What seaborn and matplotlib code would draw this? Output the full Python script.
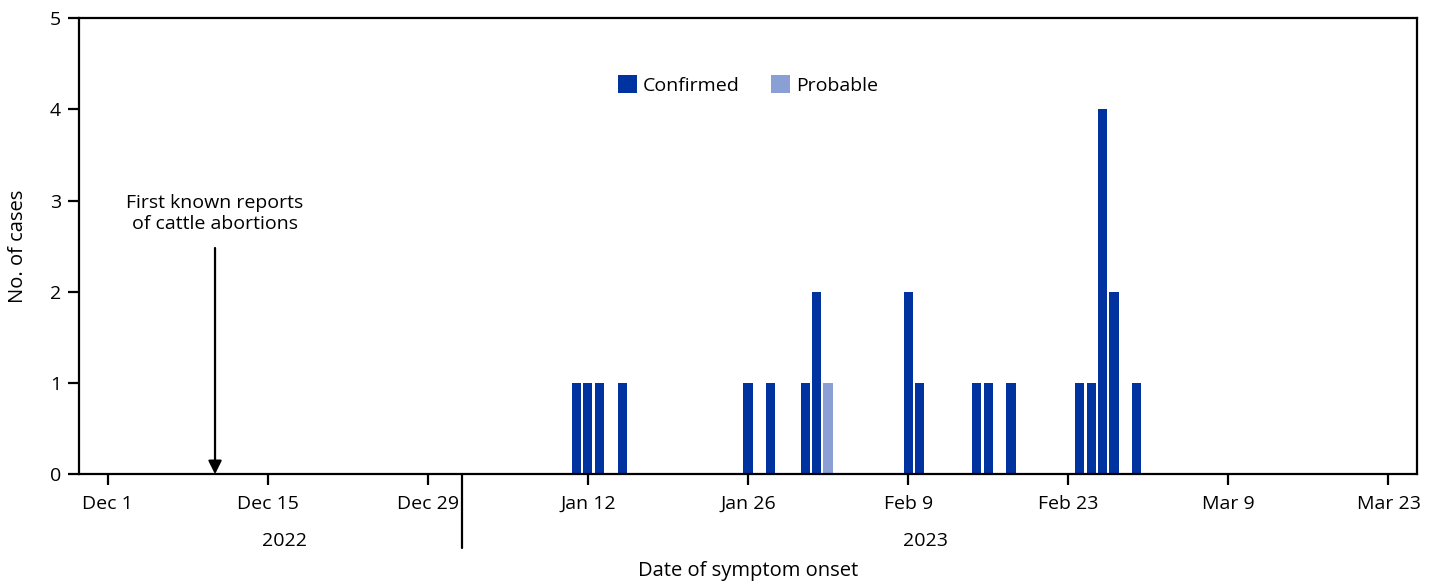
import pandas as pd
import numpy as np
import matplotlib
matplotlib.use('Agg')
import matplotlib.pyplot as plt
import matplotlib.transforms as mtransforms
from matplotlib.patches import Patch
from matplotlib.lines import Line2D
import seaborn as sns

# ---------------------------------------------------------------------------
# Data
# ---------------------------------------------------------------------------
confirmed_dates = ['2023-01-11', '2023-01-12', '2023-01-13', '2023-01-15',
                   '2023-01-26', '2023-01-28', '2023-01-31', '2023-02-01',
                   '2023-02-09', '2023-02-10', '2023-02-15', '2023-02-16',
                   '2023-02-18', '2023-02-24', '2023-02-25', '2023-02-26',
                   '2023-02-27', '2023-03-01']
confirmed_cases = [1, 1, 1, 1, 1, 1, 1, 2, 2, 1, 1, 1, 1, 1, 1, 4, 2, 1]

probable_dates = ['2023-02-02']
probable_cases = [1]

tick_dates = ['2022-12-01', '2022-12-15', '2022-12-29', '2023-01-12', '2023-01-26',
              '2023-02-09', '2023-02-23', '2023-03-09', '2023-03-23']
tick_labels = ['Dec 1', 'Dec 15', 'Dec 29', 'Jan 12', 'Jan 26',
               'Feb 9', 'Feb 23', 'Mar 9', 'Mar 23']

arrow_date = '2022-12-10'
year_break = '2023-01-01'

START = pd.Timestamp('2022-12-01')

COLORS = {'Confirmed': '#0033A0', 'Probable': '#8AA0D4'}
FS = 14

# ---------------------------------------------------------------------------
# Style
# ---------------------------------------------------------------------------
sns.set_style('white')
plt.rcParams['font.family'] = ['Open Sans', 'DejaVu Sans']
plt.rcParams['font.size'] = FS
plt.rcParams['text.color'] = 'black'
plt.rcParams['axes.labelcolor'] = 'black'
plt.rcParams['xtick.color'] = 'black'
plt.rcParams['ytick.color'] = 'black'


def to_day(d):
    return (pd.Timestamp(d) - START).days


df = pd.concat([
    pd.DataFrame({'date': confirmed_dates, 'cases': confirmed_cases, 'status': 'Confirmed'}),
    pd.DataFrame({'date': probable_dates, 'cases': probable_cases, 'status': 'Probable'}),
], ignore_index=True)
df['day'] = df['date'].apply(to_day)

fig = plt.figure(figsize=(14.35, 5.84), dpi=100)
ax = fig.add_axes([0.055, 0.188, 0.9325, 0.781])

sns.histplot(data=df, x='day', weights='cases', hue='status',
             hue_order=['Confirmed', 'Probable'], palette=COLORS,
             multiple='stack', discrete=True, shrink=0.8,
             alpha=1, linewidth=0, legend=False, ax=ax)

ax.set_xlim(-2.5, 114.5)
ax.set_ylim(0, 5)
ax.set_yticks(range(0, 6))
ax.set_xticks([to_day(d) for d in tick_dates])
ax.set_xticklabels(tick_labels)

for s in ax.spines.values():
    s.set_visible(True)
    s.set_color('black')
    s.set_linewidth(1.6)
ax.tick_params(axis='both', direction='out', length=8, width=1.6, color='black',
               labelsize=FS, labelcolor='black', bottom=True, left=True)
ax.tick_params(axis='x', pad=7)
ax.tick_params(axis='y', pad=5)

ax.set_ylabel('No. of cases', fontsize=FS + 0.5)
ax.yaxis.set_label_coords(-0.0456, 0.5)
ax.yaxis.label.set_va('center')
ax.set_xlabel('Date of symptom onset', fontsize=FS + 0.5)
ax.xaxis.set_label_coords(0.5, -0.213)
ax.xaxis.label.set_va('center')

# legend
handles = [Patch(facecolor=COLORS[k], edgecolor='none', label=k) for k in ['Confirmed', 'Probable']]
ax.legend(handles=handles, loc='center', bbox_to_anchor=(0.5, 0.853), ncol=2,
          frameon=False, handlelength=1.0, handleheight=1.0, handletextpad=0.3,
          columnspacing=1.6, fontsize=FS)

# annotation arrow
ax.annotate('', xy=(to_day(arrow_date) + 0.4, 0), xytext=(to_day(arrow_date) + 0.4, 2.48),
            arrowprops=dict(arrowstyle='-|>', color='black', lw=1.6,
                            mutation_scale=20, shrinkA=0, shrinkB=0))
ax.text(to_day(arrow_date) + 0.4, 2.86, 'First known reports\nof cattle abortions',
        ha='center', va='center', fontsize=FS, linespacing=1.2)

# year labels and separator
trans = mtransforms.blended_transform_factory(ax.transData, ax.transAxes)
ax.text(15.5, -0.147, '2022', transform=trans, ha='center', va='center', fontsize=FS)
ax.text(71.5, -0.147, '2023', transform=trans, ha='center', va='center', fontsize=FS)
ax.add_line(Line2D([to_day(year_break)] * 2, [0, -0.162], transform=trans,
                   color='black', lw=1.6, clip_on=False))

fig.savefig('out.png', dpi=100, facecolor='white')
